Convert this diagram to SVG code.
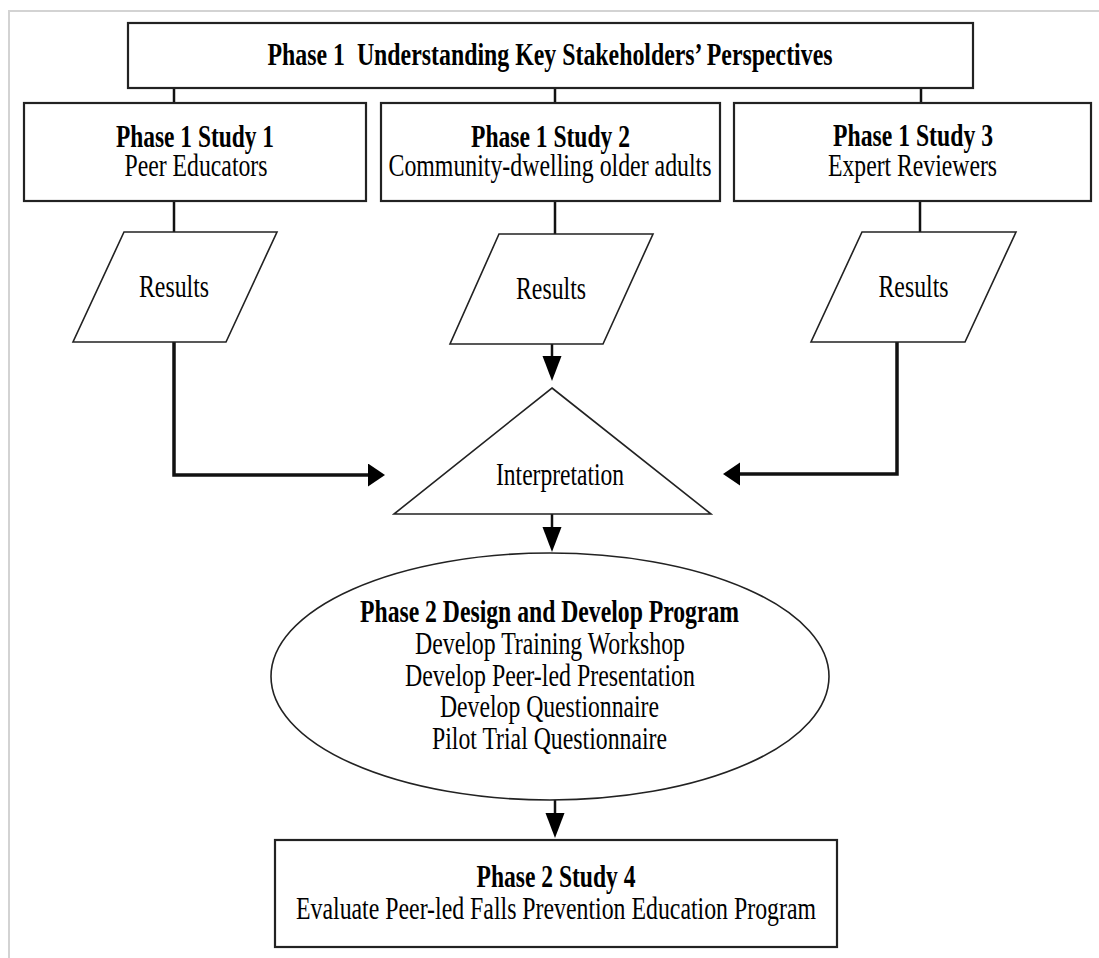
<svg xmlns="http://www.w3.org/2000/svg" width="1099" height="958" viewBox="0 0 1099 958">
<style>
 text{font-family:"Liberation Serif","Times New Roman",serif;font-size:32px;fill:#000;text-anchor:middle}
 .b{font-weight:bold}
 .pre{white-space:pre}
 .box{fill:#fff;stroke:#222;stroke-width:2.2}
 .shape{fill:#fff;stroke:#222;stroke-width:1.6}
 .ln{fill:none;stroke:#111;stroke-width:2.5}
 .lnb{fill:none;stroke:#111;stroke-width:3.5}
 .frame{stroke:#d3d3d3;stroke-width:2;fill:none}
</style>
<defs>
 <marker id="ah" markerUnits="userSpaceOnUse" markerWidth="18" markerHeight="24" refX="0" refY="11.5" orient="auto"><path d="M0,0 L17,11.5 L0,23 z" fill="#000"/></marker>
 <marker id="av" markerUnits="userSpaceOnUse" markerWidth="26" markerHeight="20" refX="0" refY="9.5" orient="auto"><path d="M0,0 L25,9.5 L0,19 z" fill="#000"/></marker>
</defs>
<rect width="1099" height="958" fill="#fff"/>
<path class="frame" d="M9,958 V11 H1099"/>
<g id="connectors">
 <path class="ln" d="M174,88 V103 M555,88 V103 M921,88 V103"/>
 <path class="ln" d="M174,201 V232 M555,201 V234 M920,202 V232"/>
 <path class="lnb" d="M174,342 V475 H368" marker-end="url(#ah)"/>
 <path class="lnb" d="M897,342 V474 H740" marker-end="url(#ah)"/>
 <path class="ln" d="M552,344 V356" marker-end="url(#av)"/>
 <path class="ln" d="M552,514 V527" marker-end="url(#av)"/>
 <path class="ln" d="M555,800 V813" marker-end="url(#av)"/>
</g>
<g id="phase1">
 <rect class="box" x="128" y="23" width="845" height="65"/>
 <text class="b pre" x="550" y="65" textLength="565" lengthAdjust="spacingAndGlyphs" xml:space="preserve">Phase 1  Understanding Key Stakeholders’ Perspectives</text>
</g>
<g id="study1">
 <rect class="box" x="24" y="103" width="342" height="98"/>
 <text class="b" x="195" y="147" textLength="158" lengthAdjust="spacingAndGlyphs">Phase 1 Study 1</text>
 <text x="196" y="176" textLength="143" lengthAdjust="spacingAndGlyphs">Peer Educators</text>
</g>
<g id="study2">
 <rect class="box" x="381" y="103" width="339" height="98"/>
 <text class="b" x="550.5" y="147" textLength="159" lengthAdjust="spacingAndGlyphs">Phase 1 Study 2</text>
 <text x="550" y="176" textLength="323" lengthAdjust="spacingAndGlyphs">Community-dwelling older adults</text>
</g>
<g id="study3">
 <rect class="box" x="734" y="103" width="357" height="98"/>
 <text class="b" x="913" y="146" textLength="160" lengthAdjust="spacingAndGlyphs">Phase 1 Study 3</text>
 <text x="912.5" y="176" textLength="169" lengthAdjust="spacingAndGlyphs">Expert Reviewers</text>
</g>
<g id="results1">
 <polygon class="shape" points="124,232 277,232 226,342 73,342"/>
 <text x="174" y="297" textLength="70" lengthAdjust="spacingAndGlyphs">Results</text>
</g>
<g id="results2">
 <polygon class="shape" points="499,234 653,234 603,344 450,344"/>
 <text x="551" y="299" textLength="70" lengthAdjust="spacingAndGlyphs">Results</text>
</g>
<g id="results3">
 <polygon class="shape" points="862,232 1016,232 965,342 811,342"/>
 <text x="913.5" y="297" textLength="70" lengthAdjust="spacingAndGlyphs">Results</text>
</g>
<g id="interpretation">
 <polygon class="shape" points="552,388 711,514 394,514"/>
 <text x="560" y="485" textLength="128" lengthAdjust="spacingAndGlyphs">Interpretation</text>
</g>
<g id="phase2">
 <ellipse class="shape" cx="550" cy="676.5" rx="279" ry="123.5"/>
 <text class="b" x="549.5" y="622" textLength="379" lengthAdjust="spacingAndGlyphs">Phase 2 Design and Develop Program</text>
 <text x="550" y="654" textLength="270" lengthAdjust="spacingAndGlyphs">Develop Training Workshop</text>
 <text x="550" y="685.5" textLength="290" lengthAdjust="spacingAndGlyphs">Develop Peer-led Presentation</text>
 <text x="549.5" y="717" textLength="219" lengthAdjust="spacingAndGlyphs">Develop Questionnaire</text>
 <text x="549.5" y="748.5" textLength="235" lengthAdjust="spacingAndGlyphs">Pilot Trial Questionnaire</text>
</g>
<g id="study4">
 <rect class="box" x="275" y="840" width="562" height="107"/>
 <text class="b" x="556" y="887" textLength="159" lengthAdjust="spacingAndGlyphs">Phase 2 Study 4</text>
 <text x="556" y="919" textLength="520" lengthAdjust="spacingAndGlyphs">Evaluate Peer-led Falls Prevention Education Program</text>
</g>
</svg>
